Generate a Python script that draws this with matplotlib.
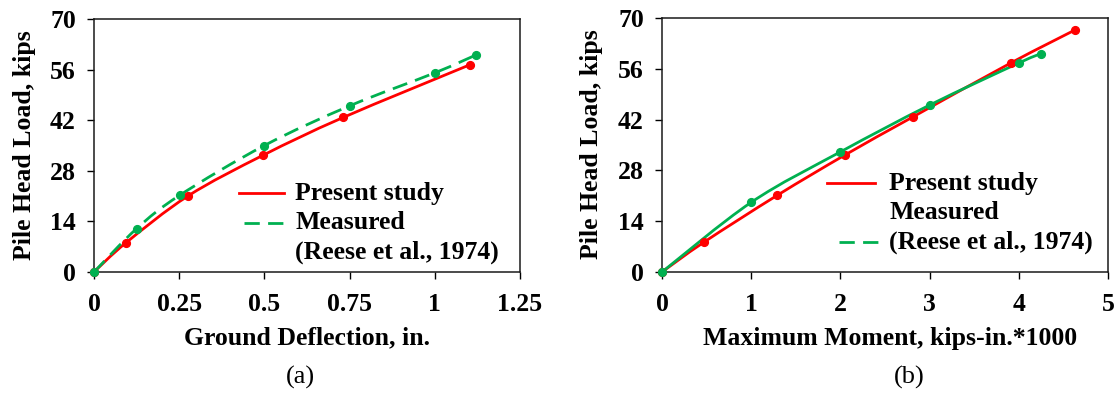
import numpy as np
import matplotlib
matplotlib.use("Agg")
import matplotlib.pyplot as plt
from matplotlib.path import Path
from matplotlib.patches import PathPatch

plt.rcParams['font.family'] = 'Liberation Serif'
plt.rcParams['font.weight'] = 'bold'

# (a) load vs ground deflection
defl_present = [0, 0.094, 0.276, 0.496, 0.731, 1.102]
load_present_a = [0, 8.1, 21.05, 32.3, 42.75, 57.3]
defl_measured = [0, 0.125, 0.251, 0.5, 0.751, 1.0, 1.122]
load_measured_a = [0, 12.0, 21.2, 35.0, 46.0, 55.1, 60.1]

# (b) load vs maximum moment (kips-in. * 1000)
moment_present = [0, 0.469, 1.29, 2.055, 2.81, 3.91, 4.63]
load_present_b = [0, 8.2, 21.1, 32.3, 42.7, 57.6, 66.7]
moment_measured = [0, 1.0, 2.0, 3.0, 4.0, 4.25]
load_measured_b = [0, 19.2, 33.1, 46.0, 57.6, 60.2]

yticks = [0, 14, 28, 42, 56, 70]
xticks_a = [0, 0.25, 0.5, 0.75, 1, 1.25]
xticklabels_a = ['0', '0.25', '0.5', '0.75', '1', '1.25']
xticks_b = [0, 1, 2, 3, 4, 5]

RED = '#ff0000'
GREEN = '#00b050'
FS = 18.5
LW = 2.0
DASH = (0, (5.5, 3.0))


def smooth_path(x, y):
    # Catmull-Rom segments written as cubic bezier, like a spreadsheet "smoothed line"
    p = np.column_stack([x, y]).astype(float)
    ext = np.vstack([p[0], p, p[-1]])
    verts = [p[0]]
    codes = [Path.MOVETO]
    for i in range(1, len(ext) - 2):
        c1 = ext[i] + (ext[i + 1] - ext[i - 1]) / 6.0
        c2 = ext[i + 1] - (ext[i + 2] - ext[i]) / 6.0
        verts += [c1, c2, ext[i + 1]]
        codes += [Path.CURVE4] * 3
    return Path(verts, codes)


def draw_series(ax, x, y, color, ls):
    patch = PathPatch(smooth_path(x, y), facecolor='none', edgecolor=color,
                      lw=LW, linestyle=ls, capstyle='butt', zorder=3)
    ax.add_patch(patch)
    ax.plot(x, y, 'o', color=color, ms=5.6, zorder=4, clip_on=False)


def style_axes(ax, xticks, xticklabels, xmax):
    ax.set_xlim(0, xmax)
    ax.set_ylim(0, 70)
    ax.set_xticks(xticks)
    ax.set_xticklabels(xticklabels)
    ax.set_yticks(yticks)
    ax.tick_params(direction='out', length=5, width=1.0, labelsize=FS,
                   color='black')
    ax.tick_params(axis='x', pad=10)
    ax.tick_params(axis='y', pad=8)
    for s in ax.spines.values():
        s.set_linewidth(1.1)
        s.set_color('#1a1a1a')


def legend_line(ax, x0, x1, y, color, ls):
    ax.plot([x0, x1], [y, y], color=color, lw=LW, linestyle=ls,
            transform=ax.transAxes, clip_on=False, zorder=5)


def legend_text(ax, x, y, s):
    ax.text(x, y, s, transform=ax.transAxes, fontsize=FS, fontweight='bold',
            ha='left', va='center', zorder=5)


fig = plt.figure(figsize=(11.17, 3.94), dpi=100)
ax_a = fig.add_axes([94 / 1117, 1 - 272 / 394, 426 / 1117, 253 / 394])
ax_b = fig.add_axes([662 / 1117, 1 - 272 / 394, 446 / 1117, 254 / 394])

# panel (a)
draw_series(ax_a, defl_present, load_present_a, RED, '-')
draw_series(ax_a, defl_measured, load_measured_a, GREEN, DASH)
style_axes(ax_a, xticks_a, xticklabels_a, 1.25)
ax_a.set_xlabel('Ground Deflection, in.', fontsize=FS, fontweight='bold')
ax_a.set_ylabel('Pile Head Load, kips', fontsize=FS, fontweight='bold')
ax_a.xaxis.set_label_coords(0.5, -0.261)
ax_a.xaxis.label.set_va('center')
ax_a.yaxis.set_label_coords(-0.162, 0.502)
ax_a.yaxis.label.set_va('center')

legend_line(ax_a, 0.340, 0.446, 0.312, RED, '-')
legend_line(ax_a, 0.352, 0.446, 0.194, GREEN, DASH)
legend_text(ax_a, 0.472, 0.312, 'Present study')
legend_text(ax_a, 0.472, 0.194, 'Measured')
legend_text(ax_a, 0.472, 0.079, '(Reese et al., 1974)')

# panel (b)
draw_series(ax_b, moment_present, load_present_b, RED, '-')
draw_series(ax_b, moment_measured, load_measured_b, GREEN, '-')
style_axes(ax_b, xticks_b, [str(t) for t in xticks_b], 5)
ax_b.set_xlabel('Maximum Moment, kips-in.*1000', fontsize=FS, fontweight='bold')
ax_b.set_ylabel('Pile Head Load, kips', fontsize=FS, fontweight='bold')
ax_b.xaxis.set_label_coords(0.511, -0.261)
ax_b.xaxis.label.set_va('center')
ax_b.yaxis.set_label_coords(-0.159, 0.502)
ax_b.yaxis.label.set_va('center')

legend_line(ax_b, 0.370, 0.478, 0.350, RED, '-')
legend_line(ax_b, 0.397, 0.489, 0.118, GREEN, DASH)
legend_text(ax_b, 0.509, 0.350, 'Present study')
legend_text(ax_b, 0.509, 0.236, 'Measured')
legend_text(ax_b, 0.509, 0.118, '(Reese et al., 1974)')

fig.text(300 / 1117, 1 - 377 / 394, '(a)', fontsize=19, fontweight='normal',
         ha='center', va='center')
fig.text(909 / 1117, 1 - 377 / 394, '(b)', fontsize=19, fontweight='normal',
         ha='center', va='center')

fig.savefig('out.png', dpi=100)
